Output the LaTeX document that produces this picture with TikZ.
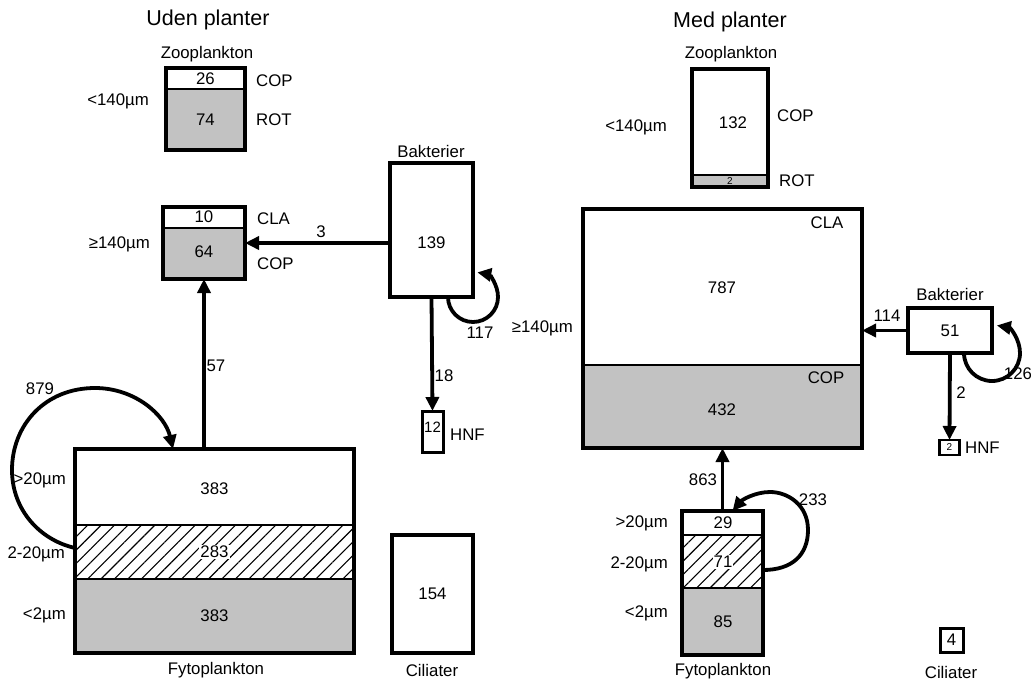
\documentclass[tikz,border=0pt]{standalone}
\usepackage{fontspec}
\setmainfont{Liberation Sans}
\usetikzlibrary{arrows.meta,patterns.meta,calc}
\begin{document}
\begin{tikzpicture}[x=1pt,y=-1pt,
  box/.style={draw, line width=3.4, inner sep=0, outer sep=0},
  lab/.style={font=\fontsize{16.8}{18}\selectfont, inner sep=0},
  small/.style={font=\fontsize{10}{11}\selectfont, inner sep=0},
  ttl/.style={font=\fontsize{21.5}{24}\selectfont, inner sep=0},
  flow/.style={line width=3.8, -{Triangle[length=14,width=13]}},
  div/.style={line width=1.8},
  shade/.style={fill=black!24},
  hatch/.style={pattern={Lines[angle=45,distance=9.5,line width=1.1]}},
  onhatch/.style={lab, fill=white, inner sep=1}
]
\useasboundingbox (0,0) rectangle (1031,680);

% ================= LEFT: Uden planter =================
\node[ttl] (tL) at (208,20) {Uden planter};

% Zooplankton <140
\node[lab] (zooLt) at (207,54) {Zooplankton};
\fill[shade] (166,89) rectangle (245,150);
\draw[div] (166,89) -- (245,89);
\node[box, minimum width=79, minimum height=82] (zooL) at (205.5,109) {};
\node[lab] (n26) at (205.5,79) {26};
\node[lab] (n74) at (205.5,120) {74};
\node[lab, anchor=west] (copL1) at (256,81) {COP};
\node[lab, anchor=west] (rotL) at (256,120) {ROT};
\node[lab, anchor=east] (szL1) at (149,101) {<140µm};

% >=140
\fill[shade] (163,228) rectangle (245,279);
\draw[div] (163,228) -- (245,228);
\node[box, minimum width=82, minimum height=72] (bigL) at (204,243) {};
\node[lab] (n10) at (204,217) {10};
\node[lab] (n64) at (204,252) {64};
\node[lab, anchor=west] (claL) at (257,219) {CLA};
\node[lab, anchor=west] (copL2) at (257,264) {COP};
\node[lab, anchor=east] (szL2) at (150,244) {≥140µm};

% Bakterier
\node[lab] (bakLt) at (431,151) {Bakterier};
\node[box, minimum width=83, minimum height=134] (bakL) at (431.5,230) {};
\node[lab] (n139) at (431.5,243) {139};

% HNF
\node[box, line width=3, minimum width=21, minimum height=41] (hnfL) at (432.5,431.5) {};
\node[lab, font=\fontsize{15}{16}\selectfont] (n12) at (432.5,427) {12};
\node[lab, anchor=west] (hnfLt) at (450,435) {HNF};

% Fytoplankton
\fill[hatch] (75,525) rectangle (354,579);
\fill[shade] (75,579) rectangle (354,653);
\draw[div] (75,525) -- (354,525);
\draw[div] (75,579) -- (354,579);
\node[box, minimum width=279, minimum height=204] (fytoL) at (214.5,551) {};
\node[lab] (n383a) at (214.5,489) {383};
\node[onhatch] (n283) at (214.5,552) {283};
\node[lab] (n383b) at (214.5,616) {383};
\node[lab, anchor=east] (s1L) at (66,480) {>20µm};
\node[lab, anchor=east] (s2L) at (65,554) {2-20µm};
\node[lab, anchor=east] (s3L) at (66,615) {<2µm};
\node[lab] (fytoLt) at (216,670) {Fytoplankton};

% Ciliater
\node[box, minimum width=81, minimum height=118] (cilL) at (432.5,594) {};
\node[lab] (n154) at (432.5,594) {154};
\node[lab] (cilLt) at (432,670) {Ciliater};

% flows left
\draw[flow] (bigL.east -| bakL.west) -- (bigL.east);
\node[lab] (f3) at (321,232) {3};
\draw[flow] (bigL.south |- fytoL.north) -- (bigL.south);
\node[lab] (f57) at (216,366) {57};
\draw[flow] (bakL.south) -- (hnfL.north);
\node[lab] (f18) at (444,376) {18};
\coordinate (l117) at ($(bakL.south east)+(-25,0)$);
\draw[flow] (l117) arc[start angle=180, end angle=-80, radius=25];
\node[lab] (f117) at (480,333) {117};
\coordinate (l879) at ($(fytoL.west)+(0,-3)$);
\coordinate (e879) at ($(fytoL.north west)+(98,0)$);
\draw[flow] (l879) .. controls (40,540) and (12,510) .. (12,470)
  .. controls (12,425) and (45,388) .. (95,388)
  .. controls (135,388) and (165,415) .. (e879);
\node[lab] (f879) at (40,389) {879};

% ================= RIGHT: Med planter =================
\node[ttl] (tR) at (730,22) {Med planter};

% Zooplankton <140
\node[lab] (zooRt) at (731,54) {Zooplankton};
\fill[shade] (692,175) rectangle (768,187);
\draw[div] (692,175) -- (768,175);
\node[box, minimum width=76, minimum height=118] (zooR) at (730,128) {};
\node[lab] (n132) at (733,123) {132};
\node[small] (n2z) at (730,181.5) {2};
\node[lab, anchor=west] (copR1) at (777,116) {COP};
\node[lab, anchor=west] (rotR) at (779,181) {ROT};
\node[lab, anchor=east] (szR1) at (667,127) {<140µm};

% >=140 big box
\fill[shade] (583,365) rectangle (862,448);
\draw[div] (583,365) -- (862,365);
\node[box, minimum width=279, minimum height=239] (bigR) at (722.5,328.5) {};
\node[lab] (n787) at (722,288) {787};
\node[lab] (n432) at (722,410) {432};
\node[lab] (claR) at (827,223) {CLA};
\node[lab] (copR2) at (826,378) {COP};
\node[lab, anchor=east] (szR2) at (573,328) {≥140µm};

% Bakterier
\node[lab] (bakRt) at (950,294) {Bakterier};
\node[box, minimum width=84, minimum height=45] (bakR) at (950,330.5) {};
\node[lab] (n51) at (950,331) {51};

% HNF
\node[box, line width=2.8, minimum width=20, minimum height=15] (hnfR) at (949.5,447.5) {};
\node[small] (n2h) at (949.5,447.5) {2};
\node[lab, anchor=west] (hnfRt) at (965,448) {HNF};

% Fytoplankton
\fill[hatch] (682,535) rectangle (763,588);
\fill[shade] (682,588) rectangle (763,655);
\draw[div] (682,535) -- (763,535);
\draw[div] (682,588) -- (763,588);
\node[box, minimum width=81, minimum height=144] (fytoR) at (722.5,583) {};
\node[lab] (n29) at (723,523) {29};
\node[onhatch] (n71) at (723,562) {71};
\node[lab] (n85) at (723,622) {85};
\node[lab, anchor=east] (s1R) at (668,523) {>20µm};
\node[lab, anchor=east] (s2R) at (668,564) {2-20µm};
\node[lab, anchor=east] (s3R) at (668,613) {<2µm};
\node[lab] (fytoRt) at (723,671) {Fytoplankton};

% Ciliater
\node[box, line width=3, minimum width=23, minimum height=24] (cilR) at (951.5,640) {};
\node[lab] (n4) at (951.5,640) {4};
\node[lab] (cilRt) at (951,672) {Ciliater};

% flows right
\draw[flow] (bakR.west) -- (bakR.west -| bigR.east);
\node[lab] (f114) at (887,316) {114};
\draw[flow] (bakR.south) -- (hnfR.north);
\node[lab] (f2) at (961,393) {2};
\coordinate (l126) at ($(bakR.south east)+(-28,0)$);
\draw[flow] (l126) arc[start angle=180, end angle=-80, radius=28];
\node[lab] (f126) at (1018,374) {126};
\draw[flow] (fytoR.north) -- (fytoR.north |- bigR.south);
\node[lab] (f863) at (703,480) {863};
\coordinate (l233) at ($(fytoR.east)+(0,-13)$);
\coordinate (e233) at ($(fytoR.north)+(10,0)$);
\draw[flow] (l233) .. controls (792,570) and (808,555) .. (808,530)
  .. controls (808,505) and (788,492) .. (770,492)
  .. controls (755,492) and (742,500) .. (e233);
\node[lab] (f233) at (813,500) {233};
\end{tikzpicture}
\end{document}
